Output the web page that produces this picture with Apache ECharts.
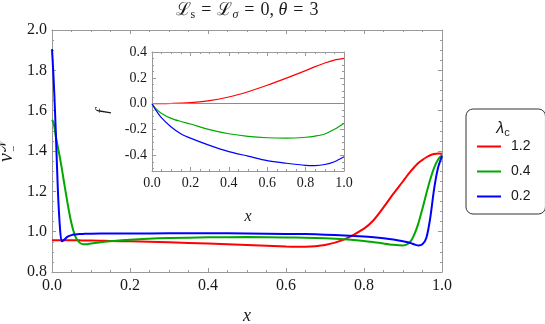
<!DOCTYPE html>
<html>
<head>
<meta charset="utf-8">
<script src="https://cdn.jsdelivr.net/npm/echarts@6/dist/echarts.min.js"></script>
<style>
  html, body { margin: 0; padding: 0; background: #fff; }
  #main { width: 545px; height: 324px; }
</style>
</head>
<body>
<div id="main"></div>
<script>
// main plot, x positions shared by the three curves
var xMain = [0, 0.003, 0.006, 0.01, 0.015, 0.02, 0.025, 0.03, 0.04, 0.05, 0.06, 0.07, 0.08, 0.09, 0.1, 0.15, 0.2, 0.3, 0.4, 0.5, 0.6, 0.65, 0.7, 0.75, 0.8, 0.825, 0.85, 0.875, 0.9, 0.91, 0.92, 0.93, 0.94, 0.95, 0.96, 0.97, 0.98, 0.99, 1.0];
// lambda_c = 1.2
var vRed = [0.957, 0.957, 0.957, 0.957, 0.957, 0.957, 0.957, 0.957, 0.957, 0.957, 0.957, 0.957, 0.956, 0.956, 0.956, 0.954, 0.952, 0.947, 0.941, 0.934, 0.927, 0.925, 0.934, 0.962, 1.015, 1.058, 1.12, 1.187, 1.25, 1.276, 1.3, 1.322, 1.342, 1.356, 1.369, 1.379, 1.385, 1.388, 1.386];
// lambda_c = 0.4
var vGreen = [1.555, 1.545, 1.52, 1.47, 1.42, 1.37, 1.315, 1.255, 1.14, 1.04, 0.975, 0.947, 0.938, 0.938, 0.941, 0.952, 0.96, 0.968, 0.972, 0.973, 0.971, 0.97, 0.967, 0.962, 0.954, 0.948, 0.941, 0.935, 0.932, 0.937, 0.953, 0.99, 1.045, 1.115, 1.19, 1.26, 1.318, 1.358, 1.38];
// lambda_c = 0.2
var vBlue = [1.905, 1.8, 1.68, 1.48, 1.21, 1.03, 0.952, 0.958, 0.975, 0.983, 0.986, 0.988, 0.989, 0.99, 0.99, 0.991, 0.991, 0.992, 0.992, 0.991, 0.989, 0.988, 0.985, 0.981, 0.976, 0.972, 0.967, 0.961, 0.953, 0.949, 0.943, 0.936, 0.931, 0.938, 0.97, 1.07, 1.215, 1.318, 1.375];

// inset: f against x
var xInset = [0, 0.02, 0.05, 0.1, 0.15, 0.2, 0.3, 0.4, 0.5, 0.6, 0.7, 0.8, 0.85, 0.9, 0.95, 1.0];
var fRed = [0, 0, 0.0005, 0.002, 0.004, 0.008, 0.024, 0.052, 0.093, 0.143, 0.198, 0.256, 0.287, 0.315, 0.337, 0.35];
var fGreen = [0, -0.038, -0.075, -0.113, -0.137, -0.157, -0.2, -0.232, -0.252, -0.263, -0.266, -0.259, -0.25, -0.234, -0.198, -0.15];
var fBlue = [0, -0.05, -0.11, -0.18, -0.232, -0.266, -0.322, -0.37, -0.405, -0.44, -0.46, -0.476, -0.478, -0.47, -0.448, -0.41];

var legendNames = ['1.2', '0.4', '0.2'];
var insetYMin = -0.52;
var insetYMax = 0.4;
var insetYTicks = [-0.4, -0.2, 0, 0.2, 0.4];
var insetYMinor = [-0.5, -0.45, -0.35, -0.3, -0.25, -0.15, -0.1, -0.05, 0.05, 0.1, 0.15, 0.25, 0.3, 0.35];

var serif = 'Liberation Serif';
var sans = 'Liberation Sans';
var frameColor = '#999999';
var textColor = '#1a1a1a';
var colors = ['#ff0000', '#00a800', '#0000ff'];

function pairs(xs, ys) {
  return xs.map(function (x, i) { return [x, ys[i]]; });
}
function fmt(v) {
  return '{t|' + v.toFixed(1) + '}';
}

//一条边框轴(刻度朝内)
function frameAxis(grid, pos, min, max, extra) {
  var ax = {
    gridIndex: grid,
    type: 'value',
    position: pos,
    min: min,
    max: max,
    axisLine: { show: true, onZero: false, lineStyle: { color: frameColor, width: 1 } },
    axisTick: { show: true, inside: true, length: 4, lineStyle: { color: frameColor } },
    splitLine: { show: false },
    axisLabel: { show: false },
  };
  for (var k in extra) ax[k] = extra[k];
  return ax;
}

function tickLabel(size, margin, custom) {
  var lab = {
    show: true, margin: margin, fontSize: size, fontFamily: serif, color: textColor, formatter: fmt,
    rich: { t: { fontFamily: serif, fontSize: size, color: textColor } },
  };
  if (custom) lab.customValues = custom;
  return lab;
}

var minor = { show: true, splitNumber: 4, length: 2, lineStyle: { color: frameColor } };

var myChart = echarts.init(document.getElementById('main'));
var option = {
  animation: false,
  backgroundColor: '#fff',
  textStyle: { fontFamily: serif },
  grid: [
    { left: 52, top: 30, width: 390, height: 242, outerBoundsMode: 'none' },
    { left: 152, top: 52, width: 192, height: 119, outerBoundsMode: 'none' },
  ],
  xAxis: [
    frameAxis(0, 'bottom', 0, 1, {
      interval: 0.2, minorTick: minor, axisLabel: tickLabel(16, 6),
      name: 'x', nameLocation: 'middle', nameGap: 35,
      nameTextStyle: { fontFamily: serif, fontStyle: 'italic', fontSize: 18, color: textColor },
    }),
    frameAxis(0, 'top', 0, 1, { interval: 0.2, minorTick: minor }),
    frameAxis(1, 'bottom', 0, 1, {
      interval: 0.2, minorTick: minor, axisLabel: tickLabel(14, 5),
      name: 'x', nameLocation: 'middle', nameGap: 38,
      nameTextStyle: { fontFamily: serif, fontStyle: 'italic', fontSize: 16, color: textColor },
    }),
    frameAxis(1, 'top', 0, 1, { interval: 0.2, minorTick: minor }),
  ],
  yAxis: [
    frameAxis(0, 'left', 0.8, 2.0, { interval: 0.2, minorTick: minor, axisLabel: tickLabel(16, 5) }),
    frameAxis(0, 'right', 0.8, 2.0, { interval: 0.2, minorTick: minor }),
    frameAxis(1, 'left', insetYMin, insetYMax, {
      axisTick: { show: true, inside: true, length: 4, customValues: insetYTicks, lineStyle: { color: frameColor } },
      axisLabel: tickLabel(14, 5, insetYTicks),
      name: 'f', nameLocation: 'middle', nameRotate: 90, nameGap: 41,
      nameTextStyle: { fontFamily: serif, fontStyle: 'italic', fontSize: 17, color: textColor },
    }),
    frameAxis(1, 'left', insetYMin, insetYMax, {
      axisLine: { show: false, onZero: false },
      axisTick: { show: true, inside: true, length: 2, customValues: insetYMinor, lineStyle: { color: frameColor } },
    }),
    frameAxis(1, 'right', insetYMin, insetYMax, {
      axisTick: { show: true, inside: true, length: 4, customValues: insetYTicks, lineStyle: { color: frameColor } },
    }),
    frameAxis(1, 'right', insetYMin, insetYMax, {
      axisLine: { show: false, onZero: false },
      axisTick: { show: true, inside: true, length: 2, customValues: insetYMinor, lineStyle: { color: frameColor } },
    }),
  ],
  legend: {
    data: legendNames,
    orient: 'vertical',
    left: 466,
    top: 109,
    padding: [25, 15, 5, 11],
    itemGap: 0,
    itemWidth: 24,
    itemHeight: 2,
    icon: 'rect',
    selectedMode: false,
    borderColor: '#333',
    borderWidth: 1,
    borderRadius: 7,
    textStyle: { fontFamily: sans, fontSize: 14, color: textColor, lineHeight: 25, padding: [0, 0, 0, 5] },
  },
  graphic: [
    {
      type: 'text', x: 247, y: 10,
      style: {
        text: '{a|ℒ}{s|s}{e|=}{a|ℒ}{g|σ}{e|=}{a|0, }{i|θ}{e|=}{a|3}',
        align: 'center', verticalAlign: 'middle',
        rich: {
          a: { fontFamily: serif, fontSize: 18, fill: textColor, lineHeight: 22 },
          i: { fontFamily: serif, fontStyle: 'italic', fontSize: 18, fill: textColor, lineHeight: 22 },
          e: { fontFamily: serif, fontSize: 18, fill: textColor, lineHeight: 22, padding: [0, 6, 0, 6] },
          s: { fontFamily: serif, fontSize: 12, fill: textColor, verticalAlign: 'bottom', lineHeight: 12 },
          g: { fontFamily: serif, fontStyle: 'italic', fontSize: 12, fill: textColor, verticalAlign: 'bottom', lineHeight: 12 },
        },
      },
    },
    {
      type: 'group', x: 7, y: 153, rotation: Math.PI / 2,
      children: [
        { type: 'text', x: 0, y: 0, style: { text: 'ν', fontFamily: serif, fontStyle: 'italic', fontSize: 20, fill: textColor, align: 'right', verticalAlign: 'middle' } },
        { type: 'text', x: 1, y: 7, style: { text: '−', fontFamily: serif, fontSize: 11, fill: textColor, align: 'left', verticalAlign: 'middle' } },
        { type: 'text', x: 1, y: -4, style: { text: '𝒩', fontFamily: serif, fontSize: 11, fill: textColor, align: 'left', verticalAlign: 'middle' } },
      ],
    },
    {
      type: 'text', x: 503, y: 129,
      style: {
        text: '{l|λ}{c|c}',
        align: 'center', verticalAlign: 'middle',
        rich: {
          l: { fontFamily: sans, fontStyle: 'italic', fontSize: 16, fill: textColor, lineHeight: 18 },
          c: { fontFamily: sans, fontSize: 11, fill: textColor, verticalAlign: 'bottom', lineHeight: 11 },
        },
      },
    },
  ],
  series: [
    { name: legendNames[0], type: 'line', xAxisIndex: 0, yAxisIndex: 0, data: pairs(xMain, vRed), showSymbol: false, symbol: 'none', smooth: 0.3, color: colors[0], lineStyle: { color: colors[0], width: 2 }, z: 3 },
    { name: legendNames[1], type: 'line', xAxisIndex: 0, yAxisIndex: 0, data: pairs(xMain, vGreen), showSymbol: false, symbol: 'none', smooth: 0.3, color: colors[1], lineStyle: { color: colors[1], width: 2 }, z: 3 },
    { name: legendNames[2], type: 'line', xAxisIndex: 0, yAxisIndex: 0, data: pairs(xMain, vBlue), showSymbol: false, symbol: 'none', smooth: 0.3, color: colors[2], lineStyle: { color: colors[2], width: 2 }, z: 4 },
    {
      name: 'f1.2', type: 'line', xAxisIndex: 2, yAxisIndex: 2, data: pairs(xInset, fRed), showSymbol: false, symbol: 'none', smooth: 0.3, color: colors[0], lineStyle: { color: colors[0], width: 1.2 }, z: 4,
      markLine: { silent: true, symbol: ['none', 'none'], label: { show: false }, lineStyle: { color: '#8c8c8c', width: 1, type: 'solid' }, data: [{ yAxis: 0 }] },
    },
    { name: 'f0.4', type: 'line', xAxisIndex: 2, yAxisIndex: 2, data: pairs(xInset, fGreen), showSymbol: false, symbol: 'none', smooth: 0.3, color: colors[1], lineStyle: { color: colors[1], width: 1.2 }, z: 4 },
    { name: 'f0.2', type: 'line', xAxisIndex: 2, yAxisIndex: 2, data: pairs(xInset, fBlue), showSymbol: false, symbol: 'none', smooth: 0.3, color: colors[2], lineStyle: { color: colors[2], width: 1.2 }, z: 4 },
  ],
};
myChart.setOption(option);
window.addEventListener('resize', function () {
  myChart.resize();
});
</script>
</body>
</html>
